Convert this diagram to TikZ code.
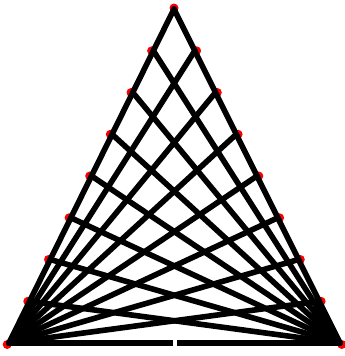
\documentclass[tikz,border=0pt]{standalone}
\usepackage{xcolor}
\usepackage{tikz}
\definecolor{dotred}{RGB}{250,0,0}

\begin{document}
\begin{tikzpicture}[
      x=1pt, y=-1pt,
      dot/.style  = {circle, fill=dotred, inner sep=0pt, minimum size=9pt},
      dotl/.style = {dot, xshift=-1.8pt},
      dotr/.style = {dot, xshift=1.8pt},
      bar/.style  = {line width=5.6pt, line cap=round, black},
    ]
    \useasboundingbox (0,0) rectangle (345,356);

    % points on the left side
    \coordinate (L0) at (174,9);
    \coordinate (L1) at (153.4,50.8);
    \coordinate (L2) at (132.8,92.5);
    \coordinate (L3) at (112.1,134.3);
    \coordinate (L4) at (91.5,176);
    \coordinate (L5) at (70.9,217.8);
    \coordinate (L6) at (50.3,259.5);
    \coordinate (L7) at (29.6,301.3);
    \coordinate (L8) at (9,343);
    % points on the right side
    \coordinate (R1) at (194.8,50.8);
    \coordinate (R2) at (215.5,92.5);
    \coordinate (R3) at (236.3,134.3);
    \coordinate (R4) at (257,176);
    \coordinate (R5) at (277.8,217.8);
    \coordinate (R6) at (298.5,259.5);
    \coordinate (R7) at (319.3,301.3);
    \coordinate (R8) at (340,343);
    \coordinate (M) at (174.5,343);

    % red dots
    \node[dot, yshift=1pt] (d0) at (L0) {};
    \node[dotl] (d1) at (L1) {};
    \node[dotl] (d2) at (L2) {};
    \node[dotl] (d3) at (L3) {};
    \node[dotl] (d4) at (L4) {};
    \node[dotl] (d5) at (L5) {};
    \node[dotl] (d6) at (L6) {};
    \node[dotl] (d7) at (L7) {};
    \node[dotl, yshift=-1.5pt] (d8) at (L8) {};
    \node[dotr] (e1) at (R1) {};
    \node[dotr] (e2) at (R2) {};
    \node[dotr] (e3) at (R3) {};
    \node[dotr] (e4) at (R4) {};
    \node[dotr] (e5) at (R5) {};
    \node[dotr] (e6) at (R6) {};
    \node[dotr] (e7) at (R7) {};
    \node[dotr, yshift=-1.5pt] (e8) at (R8) {};

    % from the left corner
    \draw[bar] (L8) -- (L0);
    \draw[bar] (L8) -- (R1);
    \draw[bar] (L8) -- (R2);
    \draw[bar] (L8) -- (R3);
    \draw[bar] (L8) -- (R4);
    \draw[bar] (L8) -- (R5);
    \draw[bar] (L8) -- (R6);
    \draw[bar] (L8) -- (R7);
    % from the right corner
    \draw[bar] (R8) -- (L0);
    \draw[bar] (R8) -- (L1);
    \draw[bar] (R8) -- (L2);
    \draw[bar] (R8) -- (L3);
    \draw[bar] (R8) -- (L4);
    \draw[bar] (R8) -- (L5);
    \draw[bar] (R8) -- (L6);
    \draw[bar] (R8) -- (L7);
    % base
    \draw[bar, line cap=butt, shorten >=2pt] (L8) -- (M);
    \draw[bar, line cap=butt, shorten >=2pt] (R8) -- (M);
  \end{tikzpicture}
\end{document}
